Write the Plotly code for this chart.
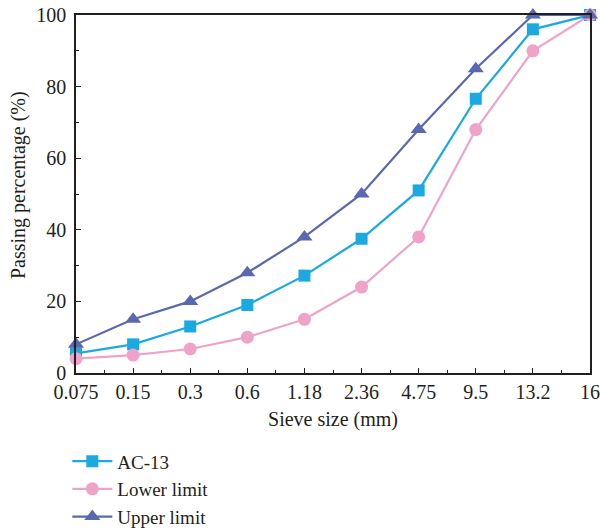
import plotly.graph_objects as go

# Sieve sizes (mm) shown as evenly spaced categories
sieve_sizes = ["0.075", "0.15", "0.3", "0.6", "1.18", "2.36", "4.75", "9.5", "13.2", "16"]
positions = list(range(len(sieve_sizes)))

# Passing percentage (%) for each gradation curve
ac13 = [5.5, 8, 13, 19, 27.2, 37.5, 51, 76.6, 96, 100]
lower_limit = [4, 5, 6.7, 10, 15, 24, 38, 68, 90, 100]
upper_limit = [8, 15, 20, 28, 38, 50, 68, 85, 100, 100]

y_ticks = [0, 20, 40, 60, 80, 100]

FONT = "Liberation Serif"
AXIS_COLOR = "#231f20"

series = [
    ("AC-13", ac13, "#1aa9e1", "square", 12),
    ("Lower limit", lower_limit, "#f0a3c8", "circle", 13),
    ("Upper limit", upper_limit, "#5a68b0", "triangle-up", 14),
]

fig = go.Figure()
for name, values, color, symbol, size in series:
    fig.add_trace(go.Scatter(
        x=positions, y=values, name=name, mode="lines+markers",
        line=dict(color=color, width=2.2),
        marker=dict(color=color, symbol=symbol, size=size, line=dict(width=0)),
        cliponaxis=False,
    ))

fig.update_layout(
    width=601, height=531,
    margin=dict(l=76, r=11, t=15, b=158, autoexpand=False),
    paper_bgcolor="white", plot_bgcolor="white",
    font=dict(family=FONT, size=20, color=AXIS_COLOR),
    showlegend=True,
    legend=dict(
        xref="container", yref="container",
        x=0.112, y=0.167, xanchor="left", yanchor="top",
        font=dict(family=FONT, size=19, color=AXIS_COLOR),
        tracegroupgap=0, itemwidth=40, bgcolor="rgba(0,0,0,0)",
    ),
)

# Vertical axis title placed beside the tick labels
fig.add_annotation(
    text="Passing percentage (%)", textangle=-90,
    xref="paper", yref="paper", x=0, y=0.525,
    xanchor="center", yanchor="middle", xshift=-58, showarrow=False,
    font=dict(family=FONT, size=20, color=AXIS_COLOR),
)

fig.update_xaxes(
    range=[0, len(sieve_sizes) - 1],
    tickmode="array", tickvals=positions, ticktext=sieve_sizes,
    ticks="inside", ticklen=5, tickwidth=1.2, tickcolor=AXIS_COLOR,
    minor=dict(tickmode="linear", tick0=0.5, dtick=1, ticks="inside",
               ticklen=3, tickwidth=1, tickcolor=AXIS_COLOR),
    showline=True, linecolor=AXIS_COLOR, linewidth=1.5, mirror=True,
    showgrid=False, zeroline=False,
    tickfont=dict(family=FONT, size=20),
    title=dict(text="Sieve size (mm)", font=dict(family=FONT, size=20), standoff=10),
)

fig.update_yaxes(
    range=[0, 100],
    tickmode="array", tickvals=y_ticks,
    ticks="inside", ticklen=5, tickwidth=1.2, tickcolor=AXIS_COLOR,
    minor=dict(tickmode="linear", tick0=10, dtick=20, ticks="inside",
               ticklen=3, tickwidth=1, tickcolor=AXIS_COLOR),
    showline=True, linecolor=AXIS_COLOR, linewidth=1.5, mirror=True,
    showgrid=False, zeroline=False, ticklabelstandoff=4,
    tickfont=dict(family=FONT, size=20),
)

fig.write_html("out.html")
